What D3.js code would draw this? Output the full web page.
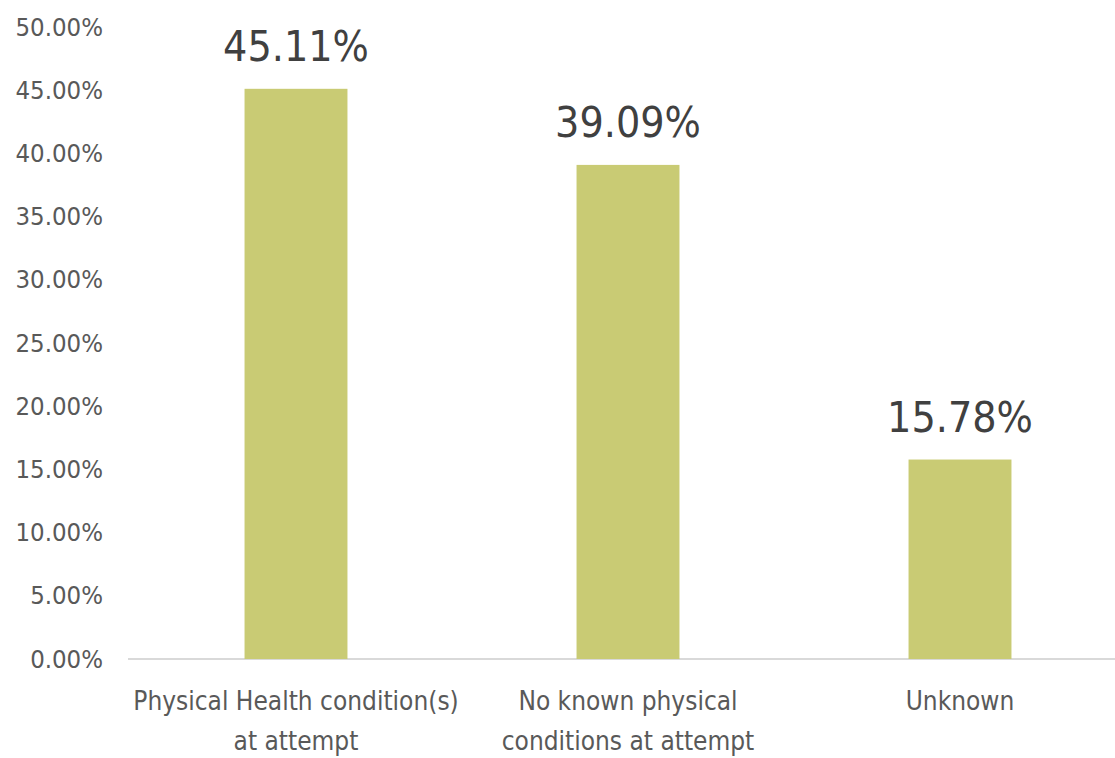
<!DOCTYPE html>
<html><head><meta charset="utf-8">
<script src="https://cdn.jsdelivr.net/npm/d3@7"></script>
<style>body{margin:0;background:#fff}svg{display:block}</style>
</head><body>
<svg id="c" width="1115" height="758"></svg>
<script>
const categories = [["Physical Health condition(s)", "at attempt"], ["No known physical", "conditions at attempt"], ["Unknown"]];
const values = [45.11, 39.09, 15.78];
const tickValues = [0, 5, 10, 15, 20, 25, 30, 35, 40, 45, 50];

const svg = d3.select("#c");
const font = "'DejaVu Sans Condensed', 'Liberation Sans Narrow', 'Arial Narrow', sans-serif";
const x = d3.scaleBand().domain(d3.range(categories.length)).range([130, 1126]).paddingInner(0.69).paddingOuter(0.345);
const y = d3.scaleLinear().domain([0, 50]).range([659, 27]);

const yAxis = svg.append("g").attr("transform", "translate(128,0)")
  .call(d3.axisLeft(y).tickValues(tickValues).tickSize(0).tickPadding(25).tickFormat(d => d.toFixed(2) + "%"));
yAxis.select(".domain").remove();
yAxis.selectAll("text").attr("fill", "#595959").style("font-family", font).style("font-size", "25.5px");

svg.append("line").attr("x1", 128).attr("x2", 1115).attr("y1", y(0)).attr("y2", y(0))
  .attr("stroke", "#d9d9d9").attr("stroke-width", 2);

svg.selectAll("rect.bar").data(values).enter().append("rect").attr("class", "bar")
  .attr("x", (d, i) => x(i)).attr("width", x.bandwidth())
  .attr("y", d => y(d)).attr("height", d => y(0) - y(d)).attr("fill", "#c9cb74");

svg.selectAll("text.val").data(values).enter().append("text").attr("class", "val")
  .attr("x", (d, i) => x(i) + x.bandwidth() / 2).attr("y", d => y(d) - 28)
  .attr("text-anchor", "middle").attr("fill", "#404040")
  .style("font-family", font).style("font-size", "42.5px").text(d => d.toFixed(2) + "%");

categories.forEach((lines, i) => {
  const t = svg.append("text").attr("text-anchor", "middle").attr("fill", "#595959")
    .style("font-family", font).style("font-size", "26px");
  lines.forEach((ln, j) => t.append("tspan").attr("x", x(i) + x.bandwidth() / 2).attr("y", 710 + j * 40).text(ln));
});
</script>
</body></html>
